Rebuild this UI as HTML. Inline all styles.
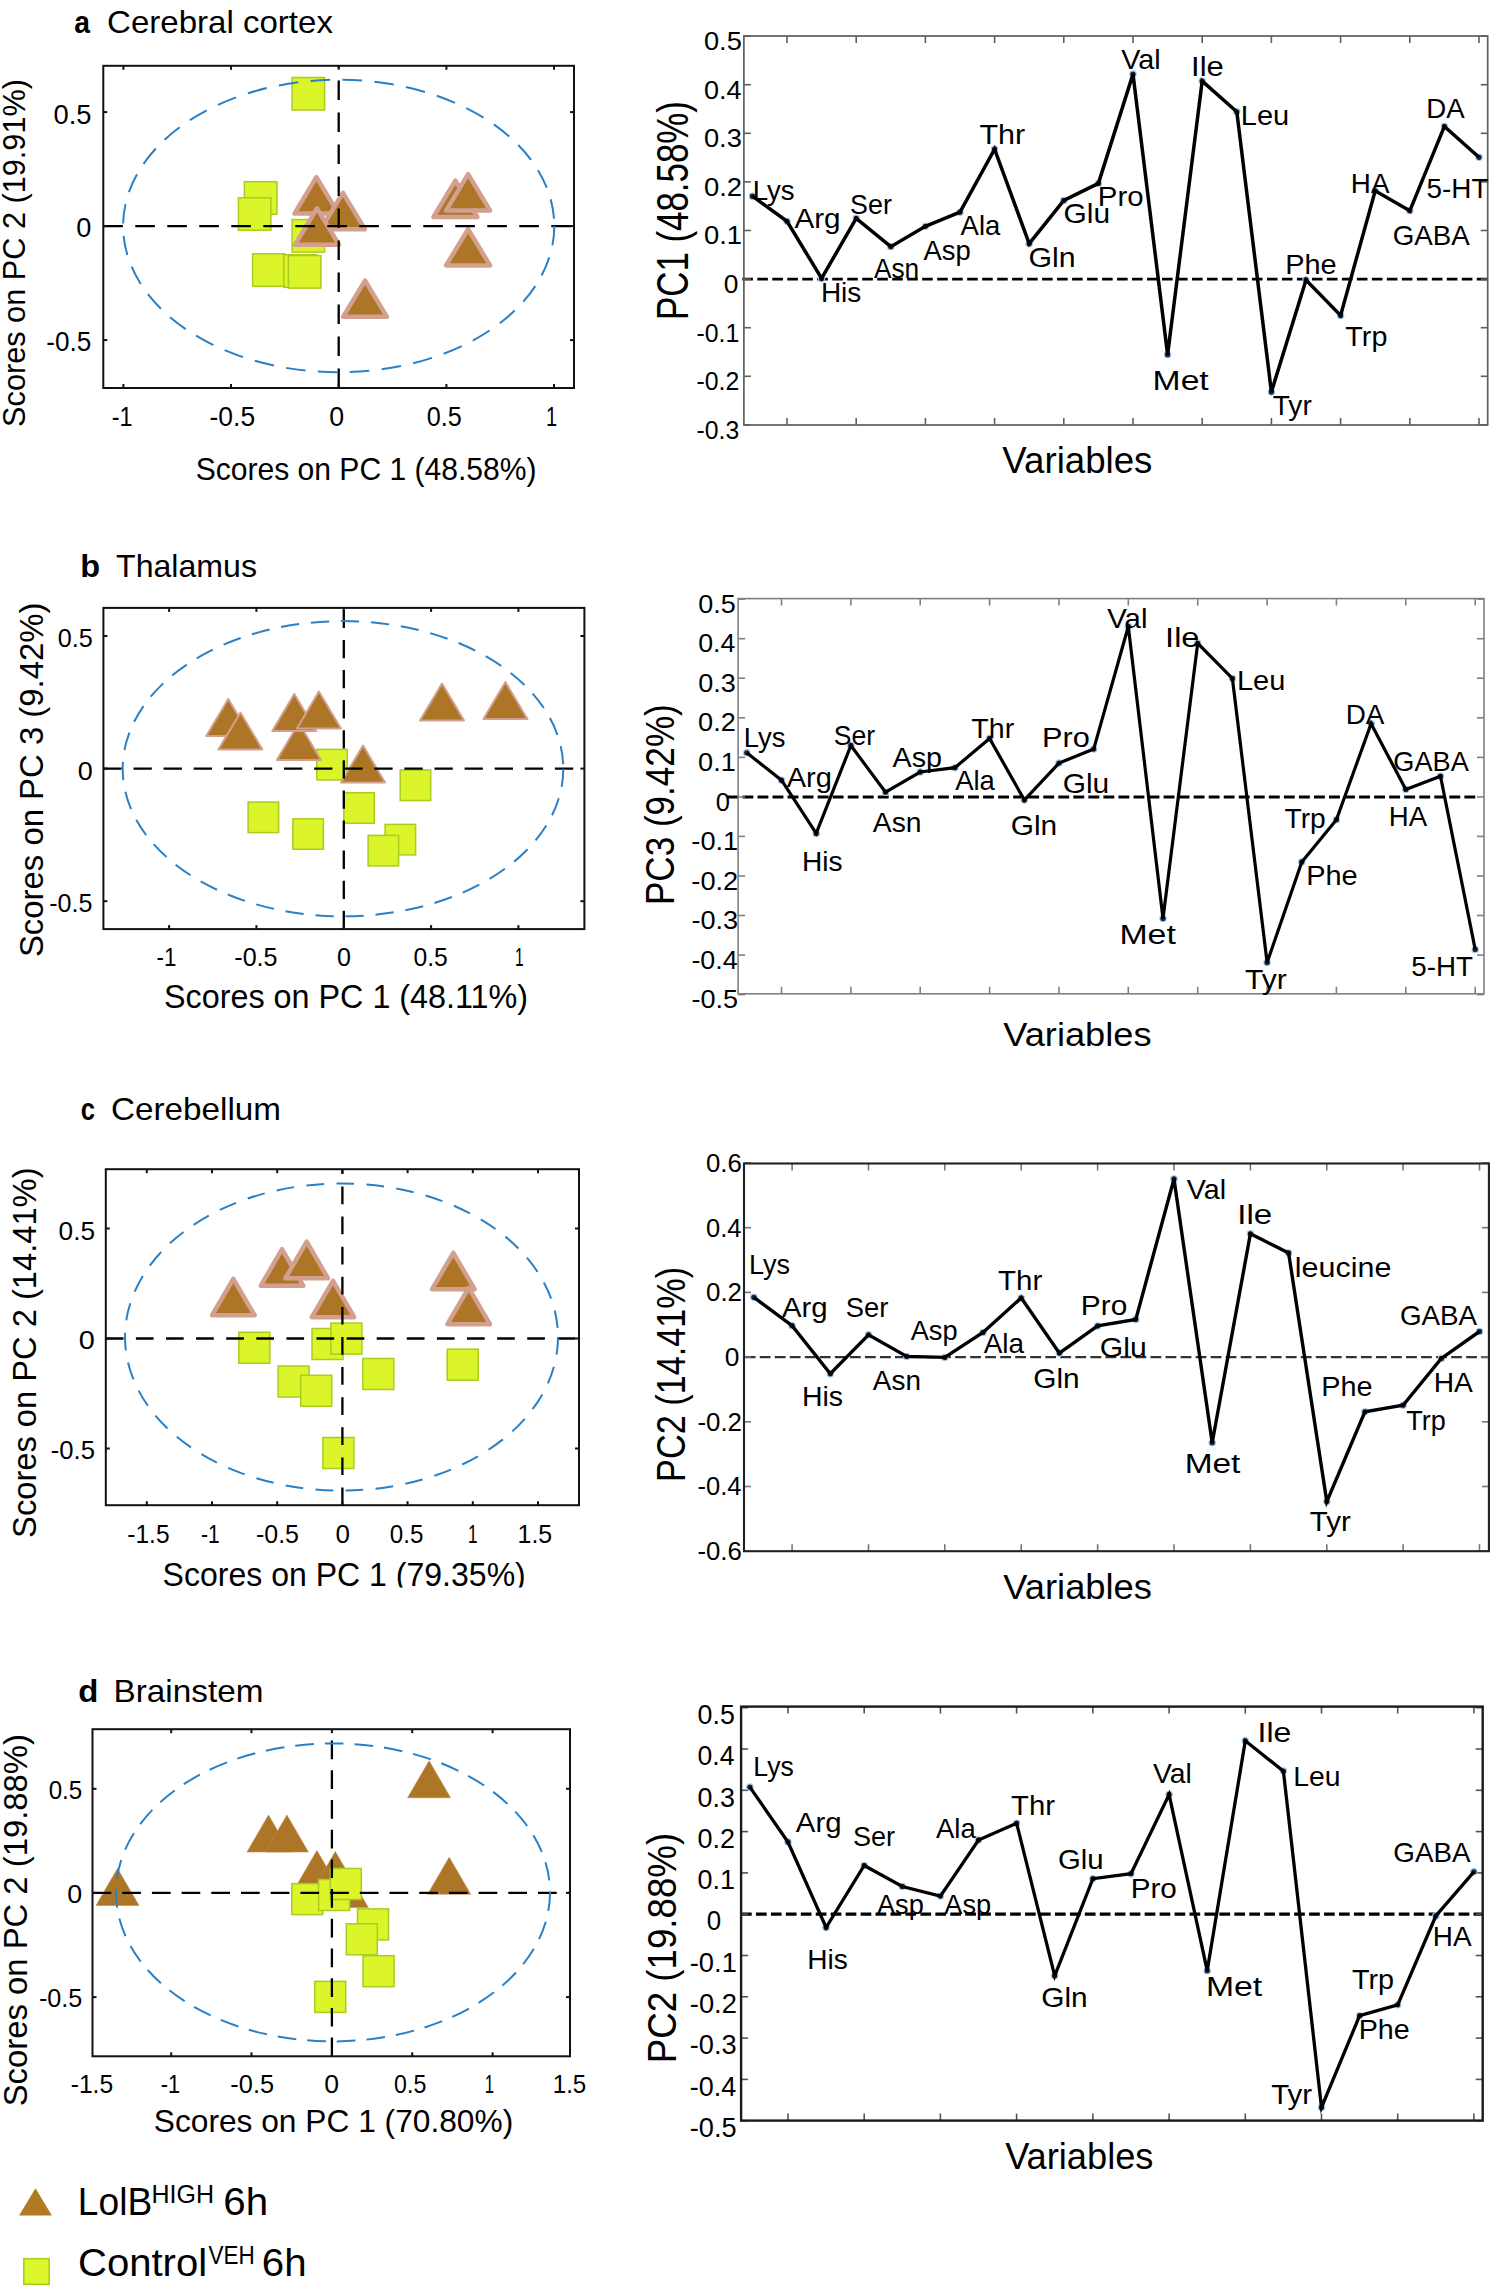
<!DOCTYPE html>
<html><head><meta charset="utf-8"><style>
html,body{margin:0;padding:0;background:#fff;}
svg{display:block;font-family:"Liberation Sans", sans-serif;}
</style></head><body>
<svg xmlns="http://www.w3.org/2000/svg" width="1496" height="2296" viewBox="0 0 1496 2296">
<rect width="1496" height="2296" fill="#fff"/>
<rect x="292.1" y="77.5" width="32.5" height="32.5" fill="#dcf52a" stroke="#a9cc1e" stroke-width="1.5"/>
<rect x="244.4" y="181.7" width="32.5" height="32.5" fill="#dcf52a" stroke="#a9cc1e" stroke-width="1.5"/>
<rect x="238.4" y="197.8" width="32.5" height="32.5" fill="#dcf52a" stroke="#a9cc1e" stroke-width="1.5"/>
<rect x="292.1" y="219.6" width="32.5" height="32.5" fill="#dcf52a" stroke="#a9cc1e" stroke-width="1.5"/>
<rect x="252.6" y="253.8" width="32.5" height="32.5" fill="#dcf52a" stroke="#a9cc1e" stroke-width="1.5"/>
<rect x="283.8" y="254.8" width="32.5" height="32.5" fill="#dcf52a" stroke="#a9cc1e" stroke-width="1.5"/>
<rect x="288.4" y="255.6" width="32.5" height="32.5" fill="#dcf52a" stroke="#a9cc1e" stroke-width="1.5"/>
<polygon points="316.4,177.2 338.4,213.6 294.4,213.6" fill="#ad7626" stroke="#d3a08f" stroke-width="4.5" stroke-linejoin="round"/>
<polygon points="342.9,192.8 364.9,229.2 320.9,229.2" fill="#ad7626" stroke="#d3a08f" stroke-width="4.5" stroke-linejoin="round"/>
<polygon points="317.0,208.3 339.0,244.7 295.0,244.7" fill="#ad7626" stroke="#d3a08f" stroke-width="4.5" stroke-linejoin="round"/>
<polygon points="365.0,280.6 387.0,316.8 343.0,316.8" fill="#ad7626" stroke="#d3a08f" stroke-width="4.5" stroke-linejoin="round"/>
<polygon points="455.4,180.7 477.4,217.0 433.4,217.0" fill="#ad7626" stroke="#d3a08f" stroke-width="4.5" stroke-linejoin="round"/>
<polygon points="468.1,174.2 490.1,210.6 446.1,210.6" fill="#ad7626" stroke="#d3a08f" stroke-width="4.5" stroke-linejoin="round"/>
<polygon points="468.1,229.2 490.1,265.4 446.1,265.4" fill="#ad7626" stroke="#d3a08f" stroke-width="4.5" stroke-linejoin="round"/>
<line x1="103.3" y1="226.1" x2="574.0" y2="226.1" stroke="#000" stroke-width="2.3" stroke-dasharray="19.6,12.4"/>
<line x1="338.7" y1="388.0" x2="338.7" y2="65.8" stroke="#000" stroke-width="2.3" stroke-dasharray="19.6,12.4"/>
<ellipse cx="338.7" cy="226.0" rx="215.6" ry="146.3" fill="none" stroke="#2a80c6" stroke-width="2" stroke-dasharray="19.6,12.4"/>
<rect x="103.3" y="65.8" width="470.7" height="322.2" fill="none" stroke="#111" stroke-width="2"/>
<line x1="123.4" y1="388.0" x2="123.4" y2="384.0" stroke="#111" stroke-width="2"/>
<line x1="123.4" y1="65.8" x2="123.4" y2="69.8" stroke="#111" stroke-width="2"/>
<line x1="231.0" y1="388.0" x2="231.0" y2="384.0" stroke="#111" stroke-width="2"/>
<line x1="231.0" y1="65.8" x2="231.0" y2="69.8" stroke="#111" stroke-width="2"/>
<line x1="338.7" y1="388.0" x2="338.7" y2="384.0" stroke="#111" stroke-width="2"/>
<line x1="338.7" y1="65.8" x2="338.7" y2="69.8" stroke="#111" stroke-width="2"/>
<line x1="446.4" y1="388.0" x2="446.4" y2="384.0" stroke="#111" stroke-width="2"/>
<line x1="446.4" y1="65.8" x2="446.4" y2="69.8" stroke="#111" stroke-width="2"/>
<line x1="554.0" y1="388.0" x2="554.0" y2="384.0" stroke="#111" stroke-width="2"/>
<line x1="554.0" y1="65.8" x2="554.0" y2="69.8" stroke="#111" stroke-width="2"/>
<line x1="103.3" y1="340.1" x2="107.3" y2="340.1" stroke="#111" stroke-width="2"/>
<line x1="574.0" y1="340.1" x2="570.0" y2="340.1" stroke="#111" stroke-width="2"/>
<line x1="103.3" y1="226.1" x2="107.3" y2="226.1" stroke="#111" stroke-width="2"/>
<line x1="574.0" y1="226.1" x2="570.0" y2="226.1" stroke="#111" stroke-width="2"/>
<line x1="103.3" y1="112.1" x2="107.3" y2="112.1" stroke="#111" stroke-width="2"/>
<line x1="574.0" y1="112.1" x2="570.0" y2="112.1" stroke="#111" stroke-width="2"/>
<text x="74.27" y="33.40" font-size="32.27" font-weight="bold" textLength="15.75" lengthAdjust="spacingAndGlyphs" fill="#000">a</text>
<text x="107.12" y="33.40" font-size="32.27" textLength="225.83" lengthAdjust="spacingAndGlyphs" fill="#000">Cerebral cortex</text>
<text x="111.76" y="425.60" font-size="28.05" textLength="20.78" lengthAdjust="spacingAndGlyphs" fill="#000">-1</text>
<text x="209.52" y="425.60" font-size="28.05" textLength="45.59" lengthAdjust="spacingAndGlyphs" fill="#000">-0.5</text>
<text x="329.35" y="425.60" font-size="28.05" textLength="14.89" lengthAdjust="spacingAndGlyphs" fill="#000">0</text>
<text x="426.72" y="425.60" font-size="28.05" textLength="35.04" lengthAdjust="spacingAndGlyphs" fill="#000">0.5</text>
<text x="546.08" y="425.60" font-size="28.05" textLength="11.09" lengthAdjust="spacingAndGlyphs" fill="#000">1</text>
<text x="53.43" y="123.50" font-size="28.05" textLength="38.02" lengthAdjust="spacingAndGlyphs" fill="#000">0.5</text>
<text x="76.24" y="237.30" font-size="28.05" textLength="15.12" lengthAdjust="spacingAndGlyphs" fill="#000">0</text>
<text x="46.34" y="351.20" font-size="28.05" textLength="45.06" lengthAdjust="spacingAndGlyphs" fill="#000">-0.5</text>
<text x="195.63" y="479.50" font-size="31.69" textLength="340.93" lengthAdjust="spacingAndGlyphs" fill="#000">Scores on PC 1 (48.58%)</text>
<text transform="translate(25.20,426.89) rotate(-90)" font-size="31.69" textLength="347.90" lengthAdjust="spacingAndGlyphs" fill="#000">Scores on PC 2 (19.91%)</text>
<rect x="316.8" y="749.4" width="30.5" height="30.5" fill="#dcf52a" stroke="#a9cc1e" stroke-width="1.5"/>
<rect x="400.2" y="770.0" width="30.5" height="30.5" fill="#dcf52a" stroke="#a9cc1e" stroke-width="1.5"/>
<rect x="343.8" y="792.8" width="30.5" height="30.5" fill="#dcf52a" stroke="#a9cc1e" stroke-width="1.5"/>
<rect x="248.1" y="802.1" width="30.5" height="30.5" fill="#dcf52a" stroke="#a9cc1e" stroke-width="1.5"/>
<rect x="292.9" y="818.8" width="30.5" height="30.5" fill="#dcf52a" stroke="#a9cc1e" stroke-width="1.5"/>
<rect x="385.1" y="824.4" width="30.5" height="30.5" fill="#dcf52a" stroke="#a9cc1e" stroke-width="1.5"/>
<rect x="368.1" y="835.4" width="30.5" height="30.5" fill="#dcf52a" stroke="#a9cc1e" stroke-width="1.5"/>
<polygon points="228.3,698.9 250.3,735.9 206.3,735.9" fill="#ad7626" stroke="#d3a08f" stroke-width="2" stroke-linejoin="round"/>
<polygon points="240.4,712.5 262.4,749.5 218.4,749.5" fill="#ad7626" stroke="#d3a08f" stroke-width="2" stroke-linejoin="round"/>
<polygon points="298.9,723.1 320.9,760.1 276.9,760.1" fill="#ad7626" stroke="#d3a08f" stroke-width="2" stroke-linejoin="round"/>
<polygon points="294.3,693.9 316.3,730.9 272.3,730.9" fill="#ad7626" stroke="#d3a08f" stroke-width="2" stroke-linejoin="round"/>
<polygon points="318.9,691.5 340.9,728.5 296.9,728.5" fill="#ad7626" stroke="#d3a08f" stroke-width="2" stroke-linejoin="round"/>
<polygon points="363.0,745.5 385.0,782.5 341.0,782.5" fill="#ad7626" stroke="#d3a08f" stroke-width="2" stroke-linejoin="round"/>
<polygon points="442.0,683.5 464.0,720.5 420.0,720.5" fill="#ad7626" stroke="#d3a08f" stroke-width="2" stroke-linejoin="round"/>
<polygon points="505.4,682.1 527.4,719.1 483.4,719.1" fill="#ad7626" stroke="#d3a08f" stroke-width="2" stroke-linejoin="round"/>
<line x1="103.4" y1="768.6" x2="584.4" y2="768.6" stroke="#000" stroke-width="2.3" stroke-dasharray="18.3,11.8"/>
<line x1="343.8" y1="929.1" x2="343.8" y2="607.9" stroke="#000" stroke-width="2.3" stroke-dasharray="18.3,11.8"/>
<ellipse cx="343.0" cy="768.7" rx="220.3" ry="147.6" fill="none" stroke="#2a80c6" stroke-width="2" stroke-dasharray="18.3,11.8"/>
<rect x="103.4" y="607.9" width="481.0" height="321.20000000000005" fill="none" stroke="#111" stroke-width="2"/>
<line x1="169.1" y1="929.1" x2="169.1" y2="925.1" stroke="#111" stroke-width="2"/>
<line x1="169.1" y1="607.9" x2="169.1" y2="611.9" stroke="#111" stroke-width="2"/>
<line x1="256.4" y1="929.1" x2="256.4" y2="925.1" stroke="#111" stroke-width="2"/>
<line x1="256.4" y1="607.9" x2="256.4" y2="611.9" stroke="#111" stroke-width="2"/>
<line x1="343.8" y1="929.1" x2="343.8" y2="925.1" stroke="#111" stroke-width="2"/>
<line x1="343.8" y1="607.9" x2="343.8" y2="611.9" stroke="#111" stroke-width="2"/>
<line x1="431.1" y1="929.1" x2="431.1" y2="925.1" stroke="#111" stroke-width="2"/>
<line x1="431.1" y1="607.9" x2="431.1" y2="611.9" stroke="#111" stroke-width="2"/>
<line x1="518.4" y1="929.1" x2="518.4" y2="925.1" stroke="#111" stroke-width="2"/>
<line x1="518.4" y1="607.9" x2="518.4" y2="611.9" stroke="#111" stroke-width="2"/>
<line x1="103.4" y1="901.2" x2="107.4" y2="901.2" stroke="#111" stroke-width="2"/>
<line x1="584.4" y1="901.2" x2="580.4" y2="901.2" stroke="#111" stroke-width="2"/>
<line x1="103.4" y1="768.6" x2="107.4" y2="768.6" stroke="#111" stroke-width="2"/>
<line x1="584.4" y1="768.6" x2="580.4" y2="768.6" stroke="#111" stroke-width="2"/>
<line x1="103.4" y1="636.0" x2="107.4" y2="636.0" stroke="#111" stroke-width="2"/>
<line x1="584.4" y1="636.0" x2="580.4" y2="636.0" stroke="#111" stroke-width="2"/>
<text x="80.15" y="576.80" font-size="31.69" font-weight="bold" textLength="19.88" lengthAdjust="spacingAndGlyphs" fill="#000">b</text>
<text x="116.08" y="576.80" font-size="31.69" textLength="140.88" lengthAdjust="spacingAndGlyphs" fill="#000">Thalamus</text>
<text x="156.51" y="966.20" font-size="26.02" textLength="19.77" lengthAdjust="spacingAndGlyphs" fill="#000">-1</text>
<text x="234.28" y="966.20" font-size="26.02" textLength="43.27" lengthAdjust="spacingAndGlyphs" fill="#000">-0.5</text>
<text x="337.02" y="966.20" font-size="26.02" textLength="13.96" lengthAdjust="spacingAndGlyphs" fill="#000">0</text>
<text x="413.54" y="966.20" font-size="26.02" textLength="34.30" lengthAdjust="spacingAndGlyphs" fill="#000">0.5</text>
<text x="514.92" y="966.20" font-size="26.02" textLength="8.64" lengthAdjust="spacingAndGlyphs" fill="#000">1</text>
<text x="57.82" y="647.20" font-size="26.02" textLength="35.04" lengthAdjust="spacingAndGlyphs" fill="#000">0.5</text>
<text x="77.85" y="779.60" font-size="26.02" textLength="15.01" lengthAdjust="spacingAndGlyphs" fill="#000">0</text>
<text x="49.18" y="911.80" font-size="26.02" textLength="43.27" lengthAdjust="spacingAndGlyphs" fill="#000">-0.5</text>
<text x="164.04" y="1008.20" font-size="33.28" textLength="364.05" lengthAdjust="spacingAndGlyphs" fill="#000">Scores on PC 1 (48.11%)</text>
<text transform="translate(42.70,957.09) rotate(-90)" font-size="33.28" textLength="354.63" lengthAdjust="spacingAndGlyphs" fill="#000">Scores on PC 3 (9.42%)</text>
<rect x="238.8" y="1332.3" width="31" height="31" fill="#dcf52a" stroke="#a9cc1e" stroke-width="1.5"/>
<rect x="312.0" y="1328.5" width="31" height="31" fill="#dcf52a" stroke="#a9cc1e" stroke-width="1.5"/>
<rect x="330.9" y="1323.1" width="31" height="31" fill="#dcf52a" stroke="#a9cc1e" stroke-width="1.5"/>
<rect x="278.1" y="1366.0" width="31" height="31" fill="#dcf52a" stroke="#a9cc1e" stroke-width="1.5"/>
<rect x="300.7" y="1375.3" width="31" height="31" fill="#dcf52a" stroke="#a9cc1e" stroke-width="1.5"/>
<rect x="362.8" y="1358.5" width="31" height="31" fill="#dcf52a" stroke="#a9cc1e" stroke-width="1.5"/>
<rect x="322.9" y="1437.5" width="31" height="31" fill="#dcf52a" stroke="#a9cc1e" stroke-width="1.5"/>
<rect x="447.2" y="1349.2" width="31" height="31" fill="#dcf52a" stroke="#a9cc1e" stroke-width="1.5"/>
<polygon points="233.3,1278.8 254.6,1315.2 212.1,1315.2" fill="#ad7626" stroke="#d3a08f" stroke-width="4.5" stroke-linejoin="round"/>
<polygon points="282.0,1249.2 303.2,1285.7 260.8,1285.7" fill="#ad7626" stroke="#d3a08f" stroke-width="4.5" stroke-linejoin="round"/>
<polygon points="306.7,1241.7 327.9,1278.2 285.4,1278.2" fill="#ad7626" stroke="#d3a08f" stroke-width="4.5" stroke-linejoin="round"/>
<polygon points="333.0,1280.8 354.2,1317.2 311.8,1317.2" fill="#ad7626" stroke="#d3a08f" stroke-width="4.5" stroke-linejoin="round"/>
<polygon points="453.3,1252.8 474.6,1289.2 432.1,1289.2" fill="#ad7626" stroke="#d3a08f" stroke-width="4.5" stroke-linejoin="round"/>
<polygon points="468.7,1287.8 489.9,1324.2 447.4,1324.2" fill="#ad7626" stroke="#d3a08f" stroke-width="4.5" stroke-linejoin="round"/>
<line x1="105.8" y1="1338.5" x2="579.0" y2="1338.5" stroke="#000" stroke-width="2.3" stroke-dasharray="17.7,12.4"/>
<line x1="342.4" y1="1505.2" x2="342.4" y2="1169.2" stroke="#000" stroke-width="2.3" stroke-dasharray="17.7,12.4"/>
<ellipse cx="341.5" cy="1337" rx="216.5" ry="153.6" fill="none" stroke="#2a80c6" stroke-width="2" stroke-dasharray="17.7,12.4"/>
<rect x="105.8" y="1169.2" width="473.2" height="336.0" fill="none" stroke="#111" stroke-width="2"/>
<line x1="146.8" y1="1505.2" x2="146.8" y2="1501.2" stroke="#111" stroke-width="2"/>
<line x1="146.8" y1="1169.2" x2="146.8" y2="1173.2" stroke="#111" stroke-width="2"/>
<line x1="212.0" y1="1505.2" x2="212.0" y2="1501.2" stroke="#111" stroke-width="2"/>
<line x1="212.0" y1="1169.2" x2="212.0" y2="1173.2" stroke="#111" stroke-width="2"/>
<line x1="277.2" y1="1505.2" x2="277.2" y2="1501.2" stroke="#111" stroke-width="2"/>
<line x1="277.2" y1="1169.2" x2="277.2" y2="1173.2" stroke="#111" stroke-width="2"/>
<line x1="342.4" y1="1505.2" x2="342.4" y2="1501.2" stroke="#111" stroke-width="2"/>
<line x1="342.4" y1="1169.2" x2="342.4" y2="1173.2" stroke="#111" stroke-width="2"/>
<line x1="407.6" y1="1505.2" x2="407.6" y2="1501.2" stroke="#111" stroke-width="2"/>
<line x1="407.6" y1="1169.2" x2="407.6" y2="1173.2" stroke="#111" stroke-width="2"/>
<line x1="472.8" y1="1505.2" x2="472.8" y2="1501.2" stroke="#111" stroke-width="2"/>
<line x1="472.8" y1="1169.2" x2="472.8" y2="1173.2" stroke="#111" stroke-width="2"/>
<line x1="538.0" y1="1505.2" x2="538.0" y2="1501.2" stroke="#111" stroke-width="2"/>
<line x1="538.0" y1="1169.2" x2="538.0" y2="1173.2" stroke="#111" stroke-width="2"/>
<line x1="105.8" y1="1448.5" x2="109.8" y2="1448.5" stroke="#111" stroke-width="2"/>
<line x1="579.0" y1="1448.5" x2="575.0" y2="1448.5" stroke="#111" stroke-width="2"/>
<line x1="105.8" y1="1338.5" x2="109.8" y2="1338.5" stroke="#111" stroke-width="2"/>
<line x1="579.0" y1="1338.5" x2="575.0" y2="1338.5" stroke="#111" stroke-width="2"/>
<line x1="105.8" y1="1228.5" x2="109.8" y2="1228.5" stroke="#111" stroke-width="2"/>
<line x1="579.0" y1="1228.5" x2="575.0" y2="1228.5" stroke="#111" stroke-width="2"/>
<text x="80.80" y="1120.10" font-size="31.98" font-weight="bold" textLength="14.25" lengthAdjust="spacingAndGlyphs" fill="#000">c</text>
<text x="110.91" y="1120.10" font-size="31.98" textLength="170.08" lengthAdjust="spacingAndGlyphs" fill="#000">Cerebellum</text>
<text x="127.31" y="1542.70" font-size="25.00" textLength="42.22" lengthAdjust="spacingAndGlyphs" fill="#000">-1.5</text>
<text x="200.97" y="1542.70" font-size="25.00" textLength="18.66" lengthAdjust="spacingAndGlyphs" fill="#000">-1</text>
<text x="255.99" y="1542.70" font-size="25.00" textLength="42.95" lengthAdjust="spacingAndGlyphs" fill="#000">-0.5</text>
<text x="335.59" y="1542.70" font-size="25.00" textLength="14.43" lengthAdjust="spacingAndGlyphs" fill="#000">0</text>
<text x="389.85" y="1542.70" font-size="25.00" textLength="33.66" lengthAdjust="spacingAndGlyphs" fill="#000">0.5</text>
<text x="467.99" y="1542.70" font-size="25.00" textLength="9.55" lengthAdjust="spacingAndGlyphs" fill="#000">1</text>
<text x="517.60" y="1542.70" font-size="25.00" textLength="34.64" lengthAdjust="spacingAndGlyphs" fill="#000">1.5</text>
<text x="58.58" y="1239.70" font-size="25.58" textLength="36.42" lengthAdjust="spacingAndGlyphs" fill="#000">0.5</text>
<text x="78.77" y="1349.10" font-size="25.58" textLength="16.06" lengthAdjust="spacingAndGlyphs" fill="#000">0</text>
<text x="50.76" y="1459.30" font-size="25.58" textLength="44.22" lengthAdjust="spacingAndGlyphs" fill="#000">-0.5</text>
<text x="162.55" y="1585.80" font-size="32.99" textLength="363.24" lengthAdjust="spacingAndGlyphs" fill="#000">Scores on PC 1 (79.35%)</text>
<text transform="translate(35.60,1537.88) rotate(-90)" font-size="33.28" textLength="370.41" lengthAdjust="spacingAndGlyphs" fill="#000">Scores on PC 2 (14.41%)</text>
<rect x="0" y="1587.5" width="640" height="14" fill="#fff"/>
<polygon points="117.5,1868.5 139.0,1905.5 96.0,1905.5" fill="#ad7626" stroke="#c08a50" stroke-width="0.6" stroke-linejoin="round"/>
<polygon points="268.5,1815.0 290.0,1852.0 247.0,1852.0" fill="#ad7626" stroke="#c08a50" stroke-width="0.6" stroke-linejoin="round"/>
<polygon points="286.9,1815.0 308.4,1852.0 265.4,1852.0" fill="#ad7626" stroke="#c08a50" stroke-width="0.6" stroke-linejoin="round"/>
<polygon points="316.9,1850.4 338.4,1887.4 295.4,1887.4" fill="#ad7626" stroke="#c08a50" stroke-width="0.6" stroke-linejoin="round"/>
<polygon points="335.3,1851.5 356.8,1888.5 313.8,1888.5" fill="#ad7626" stroke="#c08a50" stroke-width="0.6" stroke-linejoin="round"/>
<polygon points="346.8,1870.5 368.3,1907.5 325.3,1907.5" fill="#ad7626" stroke="#c08a50" stroke-width="0.6" stroke-linejoin="round"/>
<polygon points="429.1,1760.8 450.6,1797.8 407.6,1797.8" fill="#ad7626" stroke="#c08a50" stroke-width="0.6" stroke-linejoin="round"/>
<polygon points="449.2,1857.2 470.7,1894.2 427.7,1894.2" fill="#ad7626" stroke="#c08a50" stroke-width="0.6" stroke-linejoin="round"/>
<rect x="291.8" y="1883.6" width="31" height="31" fill="#dcf52a" stroke="#a9cc1e" stroke-width="1.5"/>
<rect x="318.6" y="1879.5" width="31" height="31" fill="#dcf52a" stroke="#a9cc1e" stroke-width="1.5"/>
<rect x="330.3" y="1868.5" width="31" height="31" fill="#dcf52a" stroke="#a9cc1e" stroke-width="1.5"/>
<rect x="357.5" y="1908.9" width="31" height="31" fill="#dcf52a" stroke="#a9cc1e" stroke-width="1.5"/>
<rect x="346.3" y="1923.8" width="31" height="31" fill="#dcf52a" stroke="#a9cc1e" stroke-width="1.5"/>
<rect x="363.1" y="1955.7" width="31" height="31" fill="#dcf52a" stroke="#a9cc1e" stroke-width="1.5"/>
<rect x="314.7" y="1981.4" width="31" height="31" fill="#dcf52a" stroke="#a9cc1e" stroke-width="1.5"/>
<line x1="92.5" y1="1892.9" x2="570.0" y2="1892.9" stroke="#000" stroke-width="2.3" stroke-dasharray="18.7,11"/>
<line x1="331.9" y1="2056.3" x2="331.9" y2="1729.2" stroke="#000" stroke-width="2.3" stroke-dasharray="18.7,11"/>
<ellipse cx="333" cy="1892.4" rx="217" ry="149" fill="none" stroke="#2a80c6" stroke-width="2" stroke-dasharray="18.7,11"/>
<rect x="92.5" y="1729.2" width="477.5" height="327.10000000000014" fill="none" stroke="#111" stroke-width="2"/>
<line x1="171.2" y1="2056.3" x2="171.2" y2="2052.3" stroke="#111" stroke-width="2"/>
<line x1="171.2" y1="1729.2" x2="171.2" y2="1733.2" stroke="#111" stroke-width="2"/>
<line x1="251.5" y1="2056.3" x2="251.5" y2="2052.3" stroke="#111" stroke-width="2"/>
<line x1="251.5" y1="1729.2" x2="251.5" y2="1733.2" stroke="#111" stroke-width="2"/>
<line x1="331.9" y1="2056.3" x2="331.9" y2="2052.3" stroke="#111" stroke-width="2"/>
<line x1="331.9" y1="1729.2" x2="331.9" y2="1733.2" stroke="#111" stroke-width="2"/>
<line x1="412.2" y1="2056.3" x2="412.2" y2="2052.3" stroke="#111" stroke-width="2"/>
<line x1="412.2" y1="1729.2" x2="412.2" y2="1733.2" stroke="#111" stroke-width="2"/>
<line x1="492.6" y1="2056.3" x2="492.6" y2="2052.3" stroke="#111" stroke-width="2"/>
<line x1="492.6" y1="1729.2" x2="492.6" y2="1733.2" stroke="#111" stroke-width="2"/>
<line x1="92.5" y1="1997.1" x2="96.5" y2="1997.1" stroke="#111" stroke-width="2"/>
<line x1="570.0" y1="1997.1" x2="566.0" y2="1997.1" stroke="#111" stroke-width="2"/>
<line x1="92.5" y1="1892.9" x2="96.5" y2="1892.9" stroke="#111" stroke-width="2"/>
<line x1="570.0" y1="1892.9" x2="566.0" y2="1892.9" stroke="#111" stroke-width="2"/>
<line x1="92.5" y1="1788.8" x2="96.5" y2="1788.8" stroke="#111" stroke-width="2"/>
<line x1="570.0" y1="1788.8" x2="566.0" y2="1788.8" stroke="#111" stroke-width="2"/>
<text x="78.25" y="1701.60" font-size="31.40" font-weight="bold" textLength="20.12" lengthAdjust="spacingAndGlyphs" fill="#000">d</text>
<text x="113.57" y="1701.60" font-size="31.40" textLength="149.82" lengthAdjust="spacingAndGlyphs" fill="#000">Brainstem</text>
<text x="70.71" y="2093.10" font-size="25.00" textLength="42.43" lengthAdjust="spacingAndGlyphs" fill="#000">-1.5</text>
<text x="160.83" y="2093.10" font-size="25.00" textLength="19.33" lengthAdjust="spacingAndGlyphs" fill="#000">-1</text>
<text x="230.37" y="2093.10" font-size="25.00" textLength="43.69" lengthAdjust="spacingAndGlyphs" fill="#000">-0.5</text>
<text x="324.26" y="2093.10" font-size="25.00" textLength="14.78" lengthAdjust="spacingAndGlyphs" fill="#000">0</text>
<text x="394.10" y="2093.10" font-size="25.00" textLength="32.18" lengthAdjust="spacingAndGlyphs" fill="#000">0.5</text>
<text x="484.73" y="2093.10" font-size="25.00" textLength="9.29" lengthAdjust="spacingAndGlyphs" fill="#000">1</text>
<text x="552.76" y="2093.10" font-size="25.00" textLength="33.55" lengthAdjust="spacingAndGlyphs" fill="#000">1.5</text>
<text x="48.66" y="1799.40" font-size="25.29" textLength="33.56" lengthAdjust="spacingAndGlyphs" fill="#000">0.5</text>
<text x="67.15" y="1903.30" font-size="25.29" textLength="14.89" lengthAdjust="spacingAndGlyphs" fill="#000">0</text>
<text x="38.98" y="2007.30" font-size="25.29" textLength="43.38" lengthAdjust="spacingAndGlyphs" fill="#000">-0.5</text>
<text x="153.76" y="2131.50" font-size="31.10" textLength="359.51" lengthAdjust="spacingAndGlyphs" fill="#000">Scores on PC 1 (70.80%)</text>
<text transform="translate(27.20,2106.29) rotate(-90)" font-size="33.28" textLength="372.23" lengthAdjust="spacingAndGlyphs" fill="#000">Scores on PC 2 (19.88%)</text>
<line x1="742.3" y1="279.1" x2="1487.7" y2="279.1" stroke="#000" stroke-width="2.9" stroke-dasharray="10.6,4.39" stroke-dashoffset="0"/>
<line x1="787.0" y1="425.0" x2="787.0" y2="418.0" stroke="#5e5e5e" stroke-width="1.6"/>
<line x1="787.0" y1="36.0" x2="787.0" y2="43.0" stroke="#5e5e5e" stroke-width="1.6"/>
<line x1="856.2" y1="425.0" x2="856.2" y2="418.0" stroke="#5e5e5e" stroke-width="1.6"/>
<line x1="856.2" y1="36.0" x2="856.2" y2="43.0" stroke="#5e5e5e" stroke-width="1.6"/>
<line x1="925.4" y1="425.0" x2="925.4" y2="418.0" stroke="#5e5e5e" stroke-width="1.6"/>
<line x1="925.4" y1="36.0" x2="925.4" y2="43.0" stroke="#5e5e5e" stroke-width="1.6"/>
<line x1="994.6" y1="425.0" x2="994.6" y2="418.0" stroke="#5e5e5e" stroke-width="1.6"/>
<line x1="994.6" y1="36.0" x2="994.6" y2="43.0" stroke="#5e5e5e" stroke-width="1.6"/>
<line x1="1063.8" y1="425.0" x2="1063.8" y2="418.0" stroke="#5e5e5e" stroke-width="1.6"/>
<line x1="1063.8" y1="36.0" x2="1063.8" y2="43.0" stroke="#5e5e5e" stroke-width="1.6"/>
<line x1="1133.0" y1="425.0" x2="1133.0" y2="418.0" stroke="#5e5e5e" stroke-width="1.6"/>
<line x1="1133.0" y1="36.0" x2="1133.0" y2="43.0" stroke="#5e5e5e" stroke-width="1.6"/>
<line x1="1202.2" y1="425.0" x2="1202.2" y2="418.0" stroke="#5e5e5e" stroke-width="1.6"/>
<line x1="1202.2" y1="36.0" x2="1202.2" y2="43.0" stroke="#5e5e5e" stroke-width="1.6"/>
<line x1="1271.4" y1="425.0" x2="1271.4" y2="418.0" stroke="#5e5e5e" stroke-width="1.6"/>
<line x1="1271.4" y1="36.0" x2="1271.4" y2="43.0" stroke="#5e5e5e" stroke-width="1.6"/>
<line x1="1340.6" y1="425.0" x2="1340.6" y2="418.0" stroke="#5e5e5e" stroke-width="1.6"/>
<line x1="1340.6" y1="36.0" x2="1340.6" y2="43.0" stroke="#5e5e5e" stroke-width="1.6"/>
<line x1="1409.8" y1="425.0" x2="1409.8" y2="418.0" stroke="#5e5e5e" stroke-width="1.6"/>
<line x1="1409.8" y1="36.0" x2="1409.8" y2="43.0" stroke="#5e5e5e" stroke-width="1.6"/>
<line x1="1479.0" y1="425.0" x2="1479.0" y2="418.0" stroke="#5e5e5e" stroke-width="1.6"/>
<line x1="1479.0" y1="36.0" x2="1479.0" y2="43.0" stroke="#5e5e5e" stroke-width="1.6"/>
<line x1="743.9" y1="424.9" x2="750.9" y2="424.9" stroke="#5e5e5e" stroke-width="1.6"/>
<line x1="1487.7" y1="424.9" x2="1480.7" y2="424.9" stroke="#5e5e5e" stroke-width="1.6"/>
<line x1="743.9" y1="376.3" x2="750.9" y2="376.3" stroke="#5e5e5e" stroke-width="1.6"/>
<line x1="1487.7" y1="376.3" x2="1480.7" y2="376.3" stroke="#5e5e5e" stroke-width="1.6"/>
<line x1="743.9" y1="327.7" x2="750.9" y2="327.7" stroke="#5e5e5e" stroke-width="1.6"/>
<line x1="1487.7" y1="327.7" x2="1480.7" y2="327.7" stroke="#5e5e5e" stroke-width="1.6"/>
<line x1="743.9" y1="279.1" x2="750.9" y2="279.1" stroke="#5e5e5e" stroke-width="1.6"/>
<line x1="1487.7" y1="279.1" x2="1480.7" y2="279.1" stroke="#5e5e5e" stroke-width="1.6"/>
<line x1="743.9" y1="230.5" x2="750.9" y2="230.5" stroke="#5e5e5e" stroke-width="1.6"/>
<line x1="1487.7" y1="230.5" x2="1480.7" y2="230.5" stroke="#5e5e5e" stroke-width="1.6"/>
<line x1="743.9" y1="181.9" x2="750.9" y2="181.9" stroke="#5e5e5e" stroke-width="1.6"/>
<line x1="1487.7" y1="181.9" x2="1480.7" y2="181.9" stroke="#5e5e5e" stroke-width="1.6"/>
<line x1="743.9" y1="133.3" x2="750.9" y2="133.3" stroke="#5e5e5e" stroke-width="1.6"/>
<line x1="1487.7" y1="133.3" x2="1480.7" y2="133.3" stroke="#5e5e5e" stroke-width="1.6"/>
<line x1="743.9" y1="84.7" x2="750.9" y2="84.7" stroke="#5e5e5e" stroke-width="1.6"/>
<line x1="1487.7" y1="84.7" x2="1480.7" y2="84.7" stroke="#5e5e5e" stroke-width="1.6"/>
<line x1="743.9" y1="36.1" x2="750.9" y2="36.1" stroke="#5e5e5e" stroke-width="1.6"/>
<line x1="1487.7" y1="36.1" x2="1480.7" y2="36.1" stroke="#5e5e5e" stroke-width="1.6"/>
<rect x="743.9" y="36" width="743.8000000000001" height="389" fill="none" stroke="#5e5e5e" stroke-width="1.7"/>
<circle cx="752.4" cy="196.2" r="3.2" fill="#13243a" stroke="#a9cdec" stroke-width="1.1"/>
<circle cx="787.0" cy="221.3" r="3.2" fill="#13243a" stroke="#a9cdec" stroke-width="1.1"/>
<circle cx="821.6" cy="278.4" r="3.2" fill="#13243a" stroke="#a9cdec" stroke-width="1.1"/>
<circle cx="856.2" cy="218.3" r="3.2" fill="#13243a" stroke="#a9cdec" stroke-width="1.1"/>
<circle cx="890.8" cy="246.7" r="3.2" fill="#13243a" stroke="#a9cdec" stroke-width="1.1"/>
<circle cx="925.4" cy="226.3" r="3.2" fill="#13243a" stroke="#a9cdec" stroke-width="1.1"/>
<circle cx="960.0" cy="212.2" r="3.2" fill="#13243a" stroke="#a9cdec" stroke-width="1.1"/>
<circle cx="994.6" cy="149.1" r="3.2" fill="#13243a" stroke="#a9cdec" stroke-width="1.1"/>
<circle cx="1029.2" cy="243.7" r="3.2" fill="#13243a" stroke="#a9cdec" stroke-width="1.1"/>
<circle cx="1063.8" cy="200.4" r="3.2" fill="#13243a" stroke="#a9cdec" stroke-width="1.1"/>
<circle cx="1098.4" cy="183.4" r="3.2" fill="#13243a" stroke="#a9cdec" stroke-width="1.1"/>
<circle cx="1133.0" cy="74.1" r="3.2" fill="#13243a" stroke="#a9cdec" stroke-width="1.1"/>
<circle cx="1167.6" cy="354.7" r="3.2" fill="#13243a" stroke="#a9cdec" stroke-width="1.1"/>
<circle cx="1202.2" cy="81.1" r="3.2" fill="#13243a" stroke="#a9cdec" stroke-width="1.1"/>
<circle cx="1236.8" cy="111.8" r="3.2" fill="#13243a" stroke="#a9cdec" stroke-width="1.1"/>
<circle cx="1271.4" cy="392.0" r="3.2" fill="#13243a" stroke="#a9cdec" stroke-width="1.1"/>
<circle cx="1306.0" cy="280.0" r="3.2" fill="#13243a" stroke="#a9cdec" stroke-width="1.1"/>
<circle cx="1340.6" cy="315.4" r="3.2" fill="#13243a" stroke="#a9cdec" stroke-width="1.1"/>
<circle cx="1375.2" cy="190.8" r="3.2" fill="#13243a" stroke="#a9cdec" stroke-width="1.1"/>
<circle cx="1409.8" cy="210.8" r="3.2" fill="#13243a" stroke="#a9cdec" stroke-width="1.1"/>
<circle cx="1444.4" cy="126.4" r="3.2" fill="#13243a" stroke="#a9cdec" stroke-width="1.1"/>
<circle cx="1479.0" cy="157.3" r="3.2" fill="#13243a" stroke="#a9cdec" stroke-width="1.1"/>
<polyline points="752.4,196.2 787.0,221.3 821.6,278.4 856.2,218.3 890.8,246.7 925.4,226.3 960.0,212.2 994.6,149.1 1029.2,243.7 1063.8,200.4 1098.4,183.4 1133.0,74.1 1167.6,354.7 1202.2,81.1 1236.8,111.8 1271.4,392.0 1306.0,280.0 1340.6,315.4 1375.2,190.8 1409.8,210.8 1444.4,126.4 1479.0,157.3" fill="none" stroke="#000" stroke-width="3.5" stroke-linejoin="miter" stroke-miterlimit="4"/>
<text x="752.79" y="200.20" font-size="27.47" textLength="41.88" lengthAdjust="spacingAndGlyphs" fill="#000">Lys</text>
<text x="794.44" y="228.30" font-size="27.47" textLength="46.17" lengthAdjust="spacingAndGlyphs" fill="#000">Arg</text>
<text x="820.91" y="301.50" font-size="27.47" textLength="40.41" lengthAdjust="spacingAndGlyphs" fill="#000">His</text>
<text x="850.08" y="214.20" font-size="27.47" textLength="41.76" lengthAdjust="spacingAndGlyphs" fill="#000">Ser</text>
<text x="873.95" y="278.40" font-size="27.47" textLength="45.26" lengthAdjust="spacingAndGlyphs" fill="#000">Asn</text>
<text x="923.45" y="260.40" font-size="27.47" textLength="47.31" lengthAdjust="spacingAndGlyphs" fill="#000">Asp</text>
<text x="960.55" y="235.30" font-size="27.47" textLength="39.75" lengthAdjust="spacingAndGlyphs" fill="#000">Ala</text>
<text x="979.52" y="144.10" font-size="27.47" textLength="45.69" lengthAdjust="spacingAndGlyphs" fill="#000">Thr</text>
<text x="1028.47" y="267.10" font-size="27.47" textLength="47.19" lengthAdjust="spacingAndGlyphs" fill="#000">Gln</text>
<text x="1063.59" y="222.90" font-size="27.47" textLength="46.59" lengthAdjust="spacingAndGlyphs" fill="#000">Glu</text>
<text x="1097.79" y="206.00" font-size="27.47" textLength="45.75" lengthAdjust="spacingAndGlyphs" fill="#000">Pro</text>
<text x="1121.18" y="69.10" font-size="27.47" textLength="39.45" lengthAdjust="spacingAndGlyphs" fill="#000">Val</text>
<text x="1152.64" y="390.00" font-size="27.47" textLength="56.11" lengthAdjust="spacingAndGlyphs" fill="#000">Met</text>
<text x="1191.14" y="76.10" font-size="27.47" textLength="32.74" lengthAdjust="spacingAndGlyphs" fill="#000">Ile</text>
<text x="1240.82" y="124.80" font-size="27.47" textLength="48.41" lengthAdjust="spacingAndGlyphs" fill="#000">Leu</text>
<text x="1272.79" y="414.80" font-size="27.47" textLength="38.95" lengthAdjust="spacingAndGlyphs" fill="#000">Tyr</text>
<text x="1285.23" y="274.40" font-size="27.47" textLength="51.46" lengthAdjust="spacingAndGlyphs" fill="#000">Phe</text>
<text x="1345.37" y="346.10" font-size="27.47" textLength="42.00" lengthAdjust="spacingAndGlyphs" fill="#000">Trp</text>
<text x="1350.82" y="193.40" font-size="27.47" textLength="38.64" lengthAdjust="spacingAndGlyphs" fill="#000">HA</text>
<text x="1392.70" y="245.20" font-size="27.47" textLength="77.15" lengthAdjust="spacingAndGlyphs" fill="#000">GABA</text>
<text x="1426.33" y="118.30" font-size="27.47" textLength="38.42" lengthAdjust="spacingAndGlyphs" fill="#000">DA</text>
<text x="1426.48" y="197.50" font-size="27.47" textLength="61.96" lengthAdjust="spacingAndGlyphs" fill="#000">5-HT</text>
<text transform="translate(687.60,320.06) rotate(-90)" font-size="43.90" textLength="219.02" lengthAdjust="spacingAndGlyphs" fill="#000">PC1 (48.58%)</text>
<text x="1002.34" y="472.80" font-size="36.92" textLength="150.06" lengthAdjust="spacingAndGlyphs" fill="#000">Variables</text>
<text x="696.50" y="438.70" font-size="25.73" textLength="42.69" lengthAdjust="spacingAndGlyphs" fill="#000">-0.3</text>
<text x="696.49" y="390.10" font-size="25.73" textLength="42.86" lengthAdjust="spacingAndGlyphs" fill="#000">-0.2</text>
<text x="696.50" y="341.50" font-size="25.73" textLength="42.82" lengthAdjust="spacingAndGlyphs" fill="#000">-0.1</text>
<text x="723.87" y="292.90" font-size="25.73" textLength="14.66" lengthAdjust="spacingAndGlyphs" fill="#000">0</text>
<text x="703.93" y="244.30" font-size="25.73" textLength="38.11" lengthAdjust="spacingAndGlyphs" fill="#000">0.1</text>
<text x="703.93" y="195.70" font-size="25.73" textLength="38.15" lengthAdjust="spacingAndGlyphs" fill="#000">0.2</text>
<text x="703.93" y="147.10" font-size="25.73" textLength="37.97" lengthAdjust="spacingAndGlyphs" fill="#000">0.3</text>
<text x="703.94" y="98.50" font-size="25.73" textLength="37.55" lengthAdjust="spacingAndGlyphs" fill="#000">0.4</text>
<text x="703.93" y="49.90" font-size="25.73" textLength="37.91" lengthAdjust="spacingAndGlyphs" fill="#000">0.5</text>
<line x1="727.4" y1="796.9" x2="1476.5" y2="796.9" stroke="#000" stroke-width="3.0" stroke-dasharray="10.9,4.14" stroke-dashoffset="0"/>
<line x1="781.5" y1="993.8" x2="781.5" y2="986.8" stroke="#808080" stroke-width="1.6"/>
<line x1="781.5" y1="598.6" x2="781.5" y2="605.6" stroke="#808080" stroke-width="1.6"/>
<line x1="850.9" y1="993.8" x2="850.9" y2="986.8" stroke="#808080" stroke-width="1.6"/>
<line x1="850.9" y1="598.6" x2="850.9" y2="605.6" stroke="#808080" stroke-width="1.6"/>
<line x1="920.2" y1="993.8" x2="920.2" y2="986.8" stroke="#808080" stroke-width="1.6"/>
<line x1="920.2" y1="598.6" x2="920.2" y2="605.6" stroke="#808080" stroke-width="1.6"/>
<line x1="989.6" y1="993.8" x2="989.6" y2="986.8" stroke="#808080" stroke-width="1.6"/>
<line x1="989.6" y1="598.6" x2="989.6" y2="605.6" stroke="#808080" stroke-width="1.6"/>
<line x1="1059.0" y1="993.8" x2="1059.0" y2="986.8" stroke="#808080" stroke-width="1.6"/>
<line x1="1059.0" y1="598.6" x2="1059.0" y2="605.6" stroke="#808080" stroke-width="1.6"/>
<line x1="1128.3" y1="993.8" x2="1128.3" y2="986.8" stroke="#808080" stroke-width="1.6"/>
<line x1="1128.3" y1="598.6" x2="1128.3" y2="605.6" stroke="#808080" stroke-width="1.6"/>
<line x1="1197.7" y1="993.8" x2="1197.7" y2="986.8" stroke="#808080" stroke-width="1.6"/>
<line x1="1197.7" y1="598.6" x2="1197.7" y2="605.6" stroke="#808080" stroke-width="1.6"/>
<line x1="1267.1" y1="993.8" x2="1267.1" y2="986.8" stroke="#808080" stroke-width="1.6"/>
<line x1="1267.1" y1="598.6" x2="1267.1" y2="605.6" stroke="#808080" stroke-width="1.6"/>
<line x1="1336.4" y1="993.8" x2="1336.4" y2="986.8" stroke="#808080" stroke-width="1.6"/>
<line x1="1336.4" y1="598.6" x2="1336.4" y2="605.6" stroke="#808080" stroke-width="1.6"/>
<line x1="1405.8" y1="993.8" x2="1405.8" y2="986.8" stroke="#808080" stroke-width="1.6"/>
<line x1="1405.8" y1="598.6" x2="1405.8" y2="605.6" stroke="#808080" stroke-width="1.6"/>
<line x1="1475.2" y1="993.8" x2="1475.2" y2="986.8" stroke="#808080" stroke-width="1.6"/>
<line x1="1475.2" y1="598.6" x2="1475.2" y2="605.6" stroke="#808080" stroke-width="1.6"/>
<line x1="738.1" y1="994.6" x2="745.1" y2="994.6" stroke="#808080" stroke-width="1.6"/>
<line x1="1484.0" y1="994.6" x2="1477.0" y2="994.6" stroke="#808080" stroke-width="1.6"/>
<line x1="738.1" y1="955.1" x2="745.1" y2="955.1" stroke="#808080" stroke-width="1.6"/>
<line x1="1484.0" y1="955.1" x2="1477.0" y2="955.1" stroke="#808080" stroke-width="1.6"/>
<line x1="738.1" y1="915.5" x2="745.1" y2="915.5" stroke="#808080" stroke-width="1.6"/>
<line x1="1484.0" y1="915.5" x2="1477.0" y2="915.5" stroke="#808080" stroke-width="1.6"/>
<line x1="738.1" y1="876.0" x2="745.1" y2="876.0" stroke="#808080" stroke-width="1.6"/>
<line x1="1484.0" y1="876.0" x2="1477.0" y2="876.0" stroke="#808080" stroke-width="1.6"/>
<line x1="738.1" y1="836.4" x2="745.1" y2="836.4" stroke="#808080" stroke-width="1.6"/>
<line x1="1484.0" y1="836.4" x2="1477.0" y2="836.4" stroke="#808080" stroke-width="1.6"/>
<line x1="738.1" y1="796.9" x2="745.1" y2="796.9" stroke="#808080" stroke-width="1.6"/>
<line x1="1484.0" y1="796.9" x2="1477.0" y2="796.9" stroke="#808080" stroke-width="1.6"/>
<line x1="738.1" y1="757.4" x2="745.1" y2="757.4" stroke="#808080" stroke-width="1.6"/>
<line x1="1484.0" y1="757.4" x2="1477.0" y2="757.4" stroke="#808080" stroke-width="1.6"/>
<line x1="738.1" y1="717.8" x2="745.1" y2="717.8" stroke="#808080" stroke-width="1.6"/>
<line x1="1484.0" y1="717.8" x2="1477.0" y2="717.8" stroke="#808080" stroke-width="1.6"/>
<line x1="738.1" y1="678.2" x2="745.1" y2="678.2" stroke="#808080" stroke-width="1.6"/>
<line x1="1484.0" y1="678.2" x2="1477.0" y2="678.2" stroke="#808080" stroke-width="1.6"/>
<line x1="738.1" y1="638.7" x2="745.1" y2="638.7" stroke="#808080" stroke-width="1.6"/>
<line x1="1484.0" y1="638.7" x2="1477.0" y2="638.7" stroke="#808080" stroke-width="1.6"/>
<line x1="738.1" y1="599.1" x2="745.1" y2="599.1" stroke="#808080" stroke-width="1.6"/>
<line x1="1484.0" y1="599.1" x2="1477.0" y2="599.1" stroke="#808080" stroke-width="1.6"/>
<rect x="738.1" y="598.6" width="745.9" height="395.19999999999993" fill="none" stroke="#808080" stroke-width="1.6"/>
<circle cx="746.8" cy="752.8" r="3.2" fill="#13243a" stroke="#a9cdec" stroke-width="1.1"/>
<circle cx="781.5" cy="780.2" r="3.2" fill="#13243a" stroke="#a9cdec" stroke-width="1.1"/>
<circle cx="816.2" cy="833.4" r="3.2" fill="#13243a" stroke="#a9cdec" stroke-width="1.1"/>
<circle cx="850.9" cy="745.5" r="3.2" fill="#13243a" stroke="#a9cdec" stroke-width="1.1"/>
<circle cx="885.5" cy="792.2" r="3.2" fill="#13243a" stroke="#a9cdec" stroke-width="1.1"/>
<circle cx="920.2" cy="772.0" r="3.2" fill="#13243a" stroke="#a9cdec" stroke-width="1.1"/>
<circle cx="954.9" cy="767.7" r="3.2" fill="#13243a" stroke="#a9cdec" stroke-width="1.1"/>
<circle cx="989.6" cy="738.5" r="3.2" fill="#13243a" stroke="#a9cdec" stroke-width="1.1"/>
<circle cx="1024.3" cy="800.0" r="3.2" fill="#13243a" stroke="#a9cdec" stroke-width="1.1"/>
<circle cx="1059.0" cy="763.1" r="3.2" fill="#13243a" stroke="#a9cdec" stroke-width="1.1"/>
<circle cx="1093.7" cy="749.1" r="3.2" fill="#13243a" stroke="#a9cdec" stroke-width="1.1"/>
<circle cx="1128.3" cy="626.5" r="3.2" fill="#13243a" stroke="#a9cdec" stroke-width="1.1"/>
<circle cx="1163.0" cy="918.5" r="3.2" fill="#13243a" stroke="#a9cdec" stroke-width="1.1"/>
<circle cx="1197.7" cy="643.3" r="3.2" fill="#13243a" stroke="#a9cdec" stroke-width="1.1"/>
<circle cx="1232.4" cy="678.5" r="3.2" fill="#13243a" stroke="#a9cdec" stroke-width="1.1"/>
<circle cx="1267.1" cy="962.5" r="3.2" fill="#13243a" stroke="#a9cdec" stroke-width="1.1"/>
<circle cx="1301.8" cy="862.0" r="3.2" fill="#13243a" stroke="#a9cdec" stroke-width="1.1"/>
<circle cx="1336.4" cy="819.7" r="3.2" fill="#13243a" stroke="#a9cdec" stroke-width="1.1"/>
<circle cx="1371.1" cy="723.8" r="3.2" fill="#13243a" stroke="#a9cdec" stroke-width="1.1"/>
<circle cx="1405.8" cy="789.4" r="3.2" fill="#13243a" stroke="#a9cdec" stroke-width="1.1"/>
<circle cx="1440.5" cy="776.2" r="3.2" fill="#13243a" stroke="#a9cdec" stroke-width="1.1"/>
<circle cx="1475.2" cy="949.4" r="3.2" fill="#13243a" stroke="#a9cdec" stroke-width="1.1"/>
<polyline points="746.8,752.8 781.5,780.2 816.2,833.4 850.9,745.5 885.5,792.2 920.2,772.0 954.9,767.7 989.6,738.5 1024.3,800.0 1059.0,763.1 1093.7,749.1 1128.3,626.5 1163.0,918.5 1197.7,643.3 1232.4,678.5 1267.1,962.5 1301.8,862.0 1336.4,819.7 1371.1,723.8 1405.8,789.4 1440.5,776.2 1475.2,949.4" fill="none" stroke="#000" stroke-width="3.2" stroke-linejoin="miter" stroke-miterlimit="4"/>
<text x="743.70" y="747.20" font-size="27.47" textLength="41.66" lengthAdjust="spacingAndGlyphs" fill="#000">Lys</text>
<text x="786.74" y="786.90" font-size="27.47" textLength="45.23" lengthAdjust="spacingAndGlyphs" fill="#000">Arg</text>
<text x="801.99" y="871.40" font-size="27.47" textLength="40.62" lengthAdjust="spacingAndGlyphs" fill="#000">His</text>
<text x="833.69" y="744.80" font-size="27.47" textLength="41.35" lengthAdjust="spacingAndGlyphs" fill="#000">Ser</text>
<text x="872.84" y="831.70" font-size="27.47" textLength="48.79" lengthAdjust="spacingAndGlyphs" fill="#000">Asn</text>
<text x="892.54" y="766.50" font-size="27.47" textLength="49.46" lengthAdjust="spacingAndGlyphs" fill="#000">Asp</text>
<text x="955.15" y="789.80" font-size="27.47" textLength="39.75" lengthAdjust="spacingAndGlyphs" fill="#000">Ala</text>
<text x="971.36" y="737.90" font-size="27.47" textLength="42.81" lengthAdjust="spacingAndGlyphs" fill="#000">Thr</text>
<text x="1010.70" y="834.70" font-size="27.47" textLength="46.44" lengthAdjust="spacingAndGlyphs" fill="#000">Gln</text>
<text x="1062.69" y="793.10" font-size="27.47" textLength="46.59" lengthAdjust="spacingAndGlyphs" fill="#000">Glu</text>
<text x="1042.08" y="747.20" font-size="27.47" textLength="47.81" lengthAdjust="spacingAndGlyphs" fill="#000">Pro</text>
<text x="1107.18" y="628.40" font-size="27.47" textLength="40.29" lengthAdjust="spacingAndGlyphs" fill="#000">Val</text>
<text x="1119.42" y="943.80" font-size="27.47" textLength="56.42" lengthAdjust="spacingAndGlyphs" fill="#000">Met</text>
<text x="1165.10" y="647.10" font-size="27.47" textLength="34.35" lengthAdjust="spacingAndGlyphs" fill="#000">Ile</text>
<text x="1237.03" y="690.10" font-size="27.47" textLength="48.30" lengthAdjust="spacingAndGlyphs" fill="#000">Leu</text>
<text x="1244.95" y="988.70" font-size="27.47" textLength="41.73" lengthAdjust="spacingAndGlyphs" fill="#000">Tyr</text>
<text x="1306.23" y="884.80" font-size="27.47" textLength="51.46" lengthAdjust="spacingAndGlyphs" fill="#000">Phe</text>
<text x="1284.58" y="828.30" font-size="27.47" textLength="41.17" lengthAdjust="spacingAndGlyphs" fill="#000">Trp</text>
<text x="1345.71" y="723.80" font-size="27.47" textLength="38.74" lengthAdjust="spacingAndGlyphs" fill="#000">DA</text>
<text x="1388.73" y="825.90" font-size="27.47" textLength="38.42" lengthAdjust="spacingAndGlyphs" fill="#000">HA</text>
<text x="1393.34" y="770.60" font-size="27.47" textLength="75.42" lengthAdjust="spacingAndGlyphs" fill="#000">GABA</text>
<text x="1411.39" y="975.60" font-size="27.47" textLength="61.65" lengthAdjust="spacingAndGlyphs" fill="#000">5-HT</text>
<text transform="translate(674.00,905.08) rotate(-90)" font-size="40.84" textLength="200.85" lengthAdjust="spacingAndGlyphs" fill="#000">PC3 (9.42%)</text>
<text x="1003.24" y="1045.80" font-size="34.01" textLength="148.34" lengthAdjust="spacingAndGlyphs" fill="#000">Variables</text>
<text x="691.40" y="1008.25" font-size="25.87" textLength="46.64" lengthAdjust="spacingAndGlyphs" fill="#000">-0.5</text>
<text x="691.41" y="968.70" font-size="25.87" textLength="46.28" lengthAdjust="spacingAndGlyphs" fill="#000">-0.4</text>
<text x="691.40" y="929.15" font-size="25.87" textLength="46.69" lengthAdjust="spacingAndGlyphs" fill="#000">-0.3</text>
<text x="691.39" y="889.60" font-size="25.87" textLength="46.88" lengthAdjust="spacingAndGlyphs" fill="#000">-0.2</text>
<text x="691.39" y="850.05" font-size="25.87" textLength="46.83" lengthAdjust="spacingAndGlyphs" fill="#000">-0.1</text>
<text x="715.70" y="810.50" font-size="25.87" textLength="14.19" lengthAdjust="spacingAndGlyphs" fill="#000">0</text>
<text x="698.14" y="770.95" font-size="25.87" textLength="37.68" lengthAdjust="spacingAndGlyphs" fill="#000">0.1</text>
<text x="698.14" y="731.40" font-size="25.87" textLength="37.72" lengthAdjust="spacingAndGlyphs" fill="#000">0.2</text>
<text x="698.15" y="691.85" font-size="25.87" textLength="37.54" lengthAdjust="spacingAndGlyphs" fill="#000">0.3</text>
<text x="698.16" y="652.30" font-size="25.87" textLength="37.13" lengthAdjust="spacingAndGlyphs" fill="#000">0.4</text>
<text x="698.15" y="612.75" font-size="25.87" textLength="37.49" lengthAdjust="spacingAndGlyphs" fill="#000">0.5</text>
<line x1="744.7" y1="1357.1" x2="1488.9" y2="1357.1" stroke="#333" stroke-width="2.3" stroke-dasharray="10.8,4.23" stroke-dashoffset="0"/>
<line x1="792.1" y1="1551.2" x2="792.1" y2="1544.2" stroke="#777" stroke-width="1.6"/>
<line x1="792.1" y1="1163.5" x2="792.1" y2="1170.5" stroke="#777" stroke-width="1.6"/>
<line x1="868.5" y1="1551.2" x2="868.5" y2="1544.2" stroke="#777" stroke-width="1.6"/>
<line x1="868.5" y1="1163.5" x2="868.5" y2="1170.5" stroke="#777" stroke-width="1.6"/>
<line x1="944.8" y1="1551.2" x2="944.8" y2="1544.2" stroke="#777" stroke-width="1.6"/>
<line x1="944.8" y1="1163.5" x2="944.8" y2="1170.5" stroke="#777" stroke-width="1.6"/>
<line x1="1021.2" y1="1551.2" x2="1021.2" y2="1544.2" stroke="#777" stroke-width="1.6"/>
<line x1="1021.2" y1="1163.5" x2="1021.2" y2="1170.5" stroke="#777" stroke-width="1.6"/>
<line x1="1097.6" y1="1551.2" x2="1097.6" y2="1544.2" stroke="#777" stroke-width="1.6"/>
<line x1="1097.6" y1="1163.5" x2="1097.6" y2="1170.5" stroke="#777" stroke-width="1.6"/>
<line x1="1174.0" y1="1551.2" x2="1174.0" y2="1544.2" stroke="#777" stroke-width="1.6"/>
<line x1="1174.0" y1="1163.5" x2="1174.0" y2="1170.5" stroke="#777" stroke-width="1.6"/>
<line x1="1250.4" y1="1551.2" x2="1250.4" y2="1544.2" stroke="#777" stroke-width="1.6"/>
<line x1="1250.4" y1="1163.5" x2="1250.4" y2="1170.5" stroke="#777" stroke-width="1.6"/>
<line x1="1326.8" y1="1551.2" x2="1326.8" y2="1544.2" stroke="#777" stroke-width="1.6"/>
<line x1="1326.8" y1="1163.5" x2="1326.8" y2="1170.5" stroke="#777" stroke-width="1.6"/>
<line x1="1403.1" y1="1551.2" x2="1403.1" y2="1544.2" stroke="#777" stroke-width="1.6"/>
<line x1="1403.1" y1="1163.5" x2="1403.1" y2="1170.5" stroke="#777" stroke-width="1.6"/>
<line x1="1479.5" y1="1551.2" x2="1479.5" y2="1544.2" stroke="#777" stroke-width="1.6"/>
<line x1="1479.5" y1="1163.5" x2="1479.5" y2="1170.5" stroke="#777" stroke-width="1.6"/>
<line x1="744.0" y1="1551.2" x2="751.0" y2="1551.2" stroke="#777" stroke-width="1.6"/>
<line x1="1488.9" y1="1551.2" x2="1481.9" y2="1551.2" stroke="#777" stroke-width="1.6"/>
<line x1="744.0" y1="1486.5" x2="751.0" y2="1486.5" stroke="#777" stroke-width="1.6"/>
<line x1="1488.9" y1="1486.5" x2="1481.9" y2="1486.5" stroke="#777" stroke-width="1.6"/>
<line x1="744.0" y1="1421.8" x2="751.0" y2="1421.8" stroke="#777" stroke-width="1.6"/>
<line x1="1488.9" y1="1421.8" x2="1481.9" y2="1421.8" stroke="#777" stroke-width="1.6"/>
<line x1="744.0" y1="1357.1" x2="751.0" y2="1357.1" stroke="#777" stroke-width="1.6"/>
<line x1="1488.9" y1="1357.1" x2="1481.9" y2="1357.1" stroke="#777" stroke-width="1.6"/>
<line x1="744.0" y1="1292.4" x2="751.0" y2="1292.4" stroke="#777" stroke-width="1.6"/>
<line x1="1488.9" y1="1292.4" x2="1481.9" y2="1292.4" stroke="#777" stroke-width="1.6"/>
<line x1="744.0" y1="1227.7" x2="751.0" y2="1227.7" stroke="#777" stroke-width="1.6"/>
<line x1="1488.9" y1="1227.7" x2="1481.9" y2="1227.7" stroke="#777" stroke-width="1.6"/>
<line x1="744.0" y1="1163.0" x2="751.0" y2="1163.0" stroke="#777" stroke-width="1.6"/>
<line x1="1488.9" y1="1163.0" x2="1481.9" y2="1163.0" stroke="#777" stroke-width="1.6"/>
<rect x="744" y="1163.5" width="744.9000000000001" height="387.70000000000005" fill="none" stroke="#222" stroke-width="2.1"/>
<circle cx="753.9" cy="1297.3" r="3.2" fill="#13243a" stroke="#a9cdec" stroke-width="1.1"/>
<circle cx="792.1" cy="1325.7" r="3.2" fill="#13243a" stroke="#a9cdec" stroke-width="1.1"/>
<circle cx="830.3" cy="1373.8" r="3.2" fill="#13243a" stroke="#a9cdec" stroke-width="1.1"/>
<circle cx="868.5" cy="1334.8" r="3.2" fill="#13243a" stroke="#a9cdec" stroke-width="1.1"/>
<circle cx="906.7" cy="1356.4" r="3.2" fill="#13243a" stroke="#a9cdec" stroke-width="1.1"/>
<circle cx="944.8" cy="1357.4" r="3.2" fill="#13243a" stroke="#a9cdec" stroke-width="1.1"/>
<circle cx="983.0" cy="1332.5" r="3.2" fill="#13243a" stroke="#a9cdec" stroke-width="1.1"/>
<circle cx="1021.2" cy="1297.9" r="3.2" fill="#13243a" stroke="#a9cdec" stroke-width="1.1"/>
<circle cx="1059.4" cy="1353.1" r="3.2" fill="#13243a" stroke="#a9cdec" stroke-width="1.1"/>
<circle cx="1097.6" cy="1325.9" r="3.2" fill="#13243a" stroke="#a9cdec" stroke-width="1.1"/>
<circle cx="1135.8" cy="1319.4" r="3.2" fill="#13243a" stroke="#a9cdec" stroke-width="1.1"/>
<circle cx="1174.0" cy="1179.0" r="3.2" fill="#13243a" stroke="#a9cdec" stroke-width="1.1"/>
<circle cx="1212.2" cy="1442.7" r="3.2" fill="#13243a" stroke="#a9cdec" stroke-width="1.1"/>
<circle cx="1250.4" cy="1233.8" r="3.2" fill="#13243a" stroke="#a9cdec" stroke-width="1.1"/>
<circle cx="1288.6" cy="1252.9" r="3.2" fill="#13243a" stroke="#a9cdec" stroke-width="1.1"/>
<circle cx="1326.8" cy="1501.6" r="3.2" fill="#13243a" stroke="#a9cdec" stroke-width="1.1"/>
<circle cx="1364.9" cy="1411.8" r="3.2" fill="#13243a" stroke="#a9cdec" stroke-width="1.1"/>
<circle cx="1403.1" cy="1405.2" r="3.2" fill="#13243a" stroke="#a9cdec" stroke-width="1.1"/>
<circle cx="1441.3" cy="1358.4" r="3.2" fill="#13243a" stroke="#a9cdec" stroke-width="1.1"/>
<circle cx="1479.5" cy="1331.5" r="3.2" fill="#13243a" stroke="#a9cdec" stroke-width="1.1"/>
<polyline points="753.9,1297.3 792.1,1325.7 830.3,1373.8 868.5,1334.8 906.7,1356.4 944.8,1357.4 983.0,1332.5 1021.2,1297.9 1059.4,1353.1 1097.6,1325.9 1135.8,1319.4 1174.0,1179.0 1212.2,1442.7 1250.4,1233.8 1288.6,1252.9 1326.8,1501.6 1364.9,1411.8 1403.1,1405.2 1441.3,1358.4 1479.5,1331.5" fill="none" stroke="#000" stroke-width="3.4" stroke-linejoin="miter" stroke-miterlimit="4"/>
<text x="749.03" y="1273.90" font-size="27.47" textLength="41.12" lengthAdjust="spacingAndGlyphs" fill="#000">Lys</text>
<text x="781.94" y="1317.20" font-size="27.47" textLength="45.75" lengthAdjust="spacingAndGlyphs" fill="#000">Arg</text>
<text x="801.96" y="1405.80" font-size="27.47" textLength="41.17" lengthAdjust="spacingAndGlyphs" fill="#000">His</text>
<text x="845.66" y="1316.50" font-size="27.47" textLength="42.60" lengthAdjust="spacingAndGlyphs" fill="#000">Ser</text>
<text x="872.85" y="1390.20" font-size="27.47" textLength="48.07" lengthAdjust="spacingAndGlyphs" fill="#000">Asn</text>
<text x="910.65" y="1340.10" font-size="27.47" textLength="46.90" lengthAdjust="spacingAndGlyphs" fill="#000">Asp</text>
<text x="983.65" y="1353.10" font-size="27.47" textLength="40.35" lengthAdjust="spacingAndGlyphs" fill="#000">Ala</text>
<text x="998.04" y="1290.40" font-size="27.47" textLength="44.25" lengthAdjust="spacingAndGlyphs" fill="#000">Thr</text>
<text x="1033.20" y="1387.70" font-size="27.47" textLength="46.44" lengthAdjust="spacingAndGlyphs" fill="#000">Gln</text>
<text x="1099.78" y="1356.80" font-size="27.47" textLength="46.92" lengthAdjust="spacingAndGlyphs" fill="#000">Glu</text>
<text x="1080.85" y="1314.70" font-size="27.47" textLength="46.40" lengthAdjust="spacingAndGlyphs" fill="#000">Pro</text>
<text x="1186.68" y="1199.00" font-size="27.47" textLength="39.34" lengthAdjust="spacingAndGlyphs" fill="#000">Val</text>
<text x="1184.65" y="1472.60" font-size="27.47" textLength="55.79" lengthAdjust="spacingAndGlyphs" fill="#000">Met</text>
<text x="1237.25" y="1223.90" font-size="27.47" textLength="34.92" lengthAdjust="spacingAndGlyphs" fill="#000">Ile</text>
<text x="1294.85" y="1276.90" font-size="27.47" textLength="96.51" lengthAdjust="spacingAndGlyphs" fill="#000">leucine</text>
<text x="1309.86" y="1530.60" font-size="27.47" textLength="41.01" lengthAdjust="spacingAndGlyphs" fill="#000">Tyr</text>
<text x="1321.23" y="1396.40" font-size="27.47" textLength="51.35" lengthAdjust="spacingAndGlyphs" fill="#000">Phe</text>
<text x="1406.31" y="1429.50" font-size="27.47" textLength="39.50" lengthAdjust="spacingAndGlyphs" fill="#000">Trp</text>
<text x="1433.69" y="1391.50" font-size="27.47" textLength="39.17" lengthAdjust="spacingAndGlyphs" fill="#000">HA</text>
<text x="1399.90" y="1325.00" font-size="27.47" textLength="77.25" lengthAdjust="spacingAndGlyphs" fill="#000">GABA</text>
<text transform="translate(684.90,1481.91) rotate(-90)" font-size="39.97" textLength="215.13" lengthAdjust="spacingAndGlyphs" fill="#000">PC2 (14.41%)</text>
<text x="1003.24" y="1599.00" font-size="35.47" textLength="148.75" lengthAdjust="spacingAndGlyphs" fill="#000">Variables</text>
<text x="697.46" y="1560.00" font-size="25.87" textLength="44.38" lengthAdjust="spacingAndGlyphs" fill="#000">-0.6</text>
<text x="697.47" y="1495.30" font-size="25.87" textLength="43.98" lengthAdjust="spacingAndGlyphs" fill="#000">-0.4</text>
<text x="697.45" y="1430.60" font-size="25.87" textLength="44.55" lengthAdjust="spacingAndGlyphs" fill="#000">-0.2</text>
<text x="724.67" y="1365.90" font-size="25.87" textLength="14.66" lengthAdjust="spacingAndGlyphs" fill="#000">0</text>
<text x="705.99" y="1301.20" font-size="25.87" textLength="36.01" lengthAdjust="spacingAndGlyphs" fill="#000">0.2</text>
<text x="706.00" y="1236.50" font-size="25.87" textLength="35.44" lengthAdjust="spacingAndGlyphs" fill="#000">0.4</text>
<text x="705.99" y="1171.80" font-size="25.87" textLength="35.84" lengthAdjust="spacingAndGlyphs" fill="#000">0.6</text>
<line x1="741.0" y1="1914.2" x2="1482.7" y2="1914.2" stroke="#000" stroke-width="3.2" stroke-dasharray="10.7,4.25" stroke-dashoffset="0"/>
<line x1="788.0" y1="2120.6" x2="788.0" y2="2113.6" stroke="#555" stroke-width="1.6"/>
<line x1="788.0" y1="1706.6" x2="788.0" y2="1713.6" stroke="#555" stroke-width="1.6"/>
<line x1="864.2" y1="2120.6" x2="864.2" y2="2113.6" stroke="#555" stroke-width="1.6"/>
<line x1="864.2" y1="1706.6" x2="864.2" y2="1713.6" stroke="#555" stroke-width="1.6"/>
<line x1="940.4" y1="2120.6" x2="940.4" y2="2113.6" stroke="#555" stroke-width="1.6"/>
<line x1="940.4" y1="1706.6" x2="940.4" y2="1713.6" stroke="#555" stroke-width="1.6"/>
<line x1="1016.6" y1="2120.6" x2="1016.6" y2="2113.6" stroke="#555" stroke-width="1.6"/>
<line x1="1016.6" y1="1706.6" x2="1016.6" y2="1713.6" stroke="#555" stroke-width="1.6"/>
<line x1="1092.9" y1="2120.6" x2="1092.9" y2="2113.6" stroke="#555" stroke-width="1.6"/>
<line x1="1092.9" y1="1706.6" x2="1092.9" y2="1713.6" stroke="#555" stroke-width="1.6"/>
<line x1="1169.1" y1="2120.6" x2="1169.1" y2="2113.6" stroke="#555" stroke-width="1.6"/>
<line x1="1169.1" y1="1706.6" x2="1169.1" y2="1713.6" stroke="#555" stroke-width="1.6"/>
<line x1="1245.3" y1="2120.6" x2="1245.3" y2="2113.6" stroke="#555" stroke-width="1.6"/>
<line x1="1245.3" y1="1706.6" x2="1245.3" y2="1713.6" stroke="#555" stroke-width="1.6"/>
<line x1="1321.5" y1="2120.6" x2="1321.5" y2="2113.6" stroke="#555" stroke-width="1.6"/>
<line x1="1321.5" y1="1706.6" x2="1321.5" y2="1713.6" stroke="#555" stroke-width="1.6"/>
<line x1="1397.7" y1="2120.6" x2="1397.7" y2="2113.6" stroke="#555" stroke-width="1.6"/>
<line x1="1397.7" y1="1706.6" x2="1397.7" y2="1713.6" stroke="#555" stroke-width="1.6"/>
<line x1="1473.9" y1="2120.6" x2="1473.9" y2="2113.6" stroke="#555" stroke-width="1.6"/>
<line x1="1473.9" y1="1706.6" x2="1473.9" y2="1713.6" stroke="#555" stroke-width="1.6"/>
<line x1="741.1" y1="2120.7" x2="748.1" y2="2120.7" stroke="#555" stroke-width="1.6"/>
<line x1="1482.7" y1="2120.7" x2="1475.7" y2="2120.7" stroke="#555" stroke-width="1.6"/>
<line x1="741.1" y1="2079.4" x2="748.1" y2="2079.4" stroke="#555" stroke-width="1.6"/>
<line x1="1482.7" y1="2079.4" x2="1475.7" y2="2079.4" stroke="#555" stroke-width="1.6"/>
<line x1="741.1" y1="2038.1" x2="748.1" y2="2038.1" stroke="#555" stroke-width="1.6"/>
<line x1="1482.7" y1="2038.1" x2="1475.7" y2="2038.1" stroke="#555" stroke-width="1.6"/>
<line x1="741.1" y1="1996.8" x2="748.1" y2="1996.8" stroke="#555" stroke-width="1.6"/>
<line x1="1482.7" y1="1996.8" x2="1475.7" y2="1996.8" stroke="#555" stroke-width="1.6"/>
<line x1="741.1" y1="1955.5" x2="748.1" y2="1955.5" stroke="#555" stroke-width="1.6"/>
<line x1="1482.7" y1="1955.5" x2="1475.7" y2="1955.5" stroke="#555" stroke-width="1.6"/>
<line x1="741.1" y1="1914.2" x2="748.1" y2="1914.2" stroke="#555" stroke-width="1.6"/>
<line x1="1482.7" y1="1914.2" x2="1475.7" y2="1914.2" stroke="#555" stroke-width="1.6"/>
<line x1="741.1" y1="1872.9" x2="748.1" y2="1872.9" stroke="#555" stroke-width="1.6"/>
<line x1="1482.7" y1="1872.9" x2="1475.7" y2="1872.9" stroke="#555" stroke-width="1.6"/>
<line x1="741.1" y1="1831.6" x2="748.1" y2="1831.6" stroke="#555" stroke-width="1.6"/>
<line x1="1482.7" y1="1831.6" x2="1475.7" y2="1831.6" stroke="#555" stroke-width="1.6"/>
<line x1="741.1" y1="1790.3" x2="748.1" y2="1790.3" stroke="#555" stroke-width="1.6"/>
<line x1="1482.7" y1="1790.3" x2="1475.7" y2="1790.3" stroke="#555" stroke-width="1.6"/>
<line x1="741.1" y1="1749.0" x2="748.1" y2="1749.0" stroke="#555" stroke-width="1.6"/>
<line x1="1482.7" y1="1749.0" x2="1475.7" y2="1749.0" stroke="#555" stroke-width="1.6"/>
<line x1="741.1" y1="1707.7" x2="748.1" y2="1707.7" stroke="#555" stroke-width="1.6"/>
<line x1="1482.7" y1="1707.7" x2="1475.7" y2="1707.7" stroke="#555" stroke-width="1.6"/>
<rect x="741.1" y="1706.6" width="741.6" height="414.0" fill="none" stroke="#1a1a1a" stroke-width="2.4"/>
<circle cx="749.9" cy="1787.1" r="3.2" fill="#13243a" stroke="#a9cdec" stroke-width="1.1"/>
<circle cx="788.0" cy="1842.0" r="3.2" fill="#13243a" stroke="#a9cdec" stroke-width="1.1"/>
<circle cx="826.1" cy="1927.5" r="3.2" fill="#13243a" stroke="#a9cdec" stroke-width="1.1"/>
<circle cx="864.2" cy="1865.5" r="3.2" fill="#13243a" stroke="#a9cdec" stroke-width="1.1"/>
<circle cx="902.3" cy="1886.5" r="3.2" fill="#13243a" stroke="#a9cdec" stroke-width="1.1"/>
<circle cx="940.4" cy="1896.1" r="3.2" fill="#13243a" stroke="#a9cdec" stroke-width="1.1"/>
<circle cx="978.5" cy="1840.0" r="3.2" fill="#13243a" stroke="#a9cdec" stroke-width="1.1"/>
<circle cx="1016.6" cy="1823.2" r="3.2" fill="#13243a" stroke="#a9cdec" stroke-width="1.1"/>
<circle cx="1054.7" cy="1975.8" r="3.2" fill="#13243a" stroke="#a9cdec" stroke-width="1.1"/>
<circle cx="1092.9" cy="1878.7" r="3.2" fill="#13243a" stroke="#a9cdec" stroke-width="1.1"/>
<circle cx="1131.0" cy="1873.7" r="3.2" fill="#13243a" stroke="#a9cdec" stroke-width="1.1"/>
<circle cx="1169.1" cy="1794.5" r="3.2" fill="#13243a" stroke="#a9cdec" stroke-width="1.1"/>
<circle cx="1207.2" cy="1970.7" r="3.2" fill="#13243a" stroke="#a9cdec" stroke-width="1.1"/>
<circle cx="1245.3" cy="1740.8" r="3.2" fill="#13243a" stroke="#a9cdec" stroke-width="1.1"/>
<circle cx="1283.4" cy="1771.1" r="3.2" fill="#13243a" stroke="#a9cdec" stroke-width="1.1"/>
<circle cx="1321.5" cy="2107.4" r="3.2" fill="#13243a" stroke="#a9cdec" stroke-width="1.1"/>
<circle cx="1359.6" cy="2015.7" r="3.2" fill="#13243a" stroke="#a9cdec" stroke-width="1.1"/>
<circle cx="1397.7" cy="2004.8" r="3.2" fill="#13243a" stroke="#a9cdec" stroke-width="1.1"/>
<circle cx="1435.8" cy="1916.0" r="3.2" fill="#13243a" stroke="#a9cdec" stroke-width="1.1"/>
<circle cx="1473.9" cy="1871.8" r="3.2" fill="#13243a" stroke="#a9cdec" stroke-width="1.1"/>
<polyline points="749.9,1787.1 788.0,1842.0 826.1,1927.5 864.2,1865.5 902.3,1886.5 940.4,1896.1 978.5,1840.0 1016.6,1823.2 1054.7,1975.8 1092.9,1878.7 1131.0,1873.7 1169.1,1794.5 1207.2,1970.7 1245.3,1740.8 1283.4,1771.1 1321.5,2107.4 1359.6,2015.7 1397.7,2004.8 1435.8,1916.0 1473.9,1871.8" fill="none" stroke="#000" stroke-width="3.3" stroke-linejoin="miter" stroke-miterlimit="4"/>
<text x="753.37" y="1775.80" font-size="27.47" textLength="40.37" lengthAdjust="spacingAndGlyphs" fill="#000">Lys</text>
<text x="795.84" y="1832.30" font-size="27.47" textLength="45.75" lengthAdjust="spacingAndGlyphs" fill="#000">Arg</text>
<text x="807.29" y="1968.60" font-size="27.47" textLength="40.62" lengthAdjust="spacingAndGlyphs" fill="#000">His</text>
<text x="852.97" y="1845.60" font-size="27.47" textLength="42.08" lengthAdjust="spacingAndGlyphs" fill="#000">Ser</text>
<text x="876.95" y="1914.20" font-size="27.47" textLength="46.90" lengthAdjust="spacingAndGlyphs" fill="#000">Asp</text>
<text x="944.35" y="1914.20" font-size="27.47" textLength="46.90" lengthAdjust="spacingAndGlyphs" fill="#000">Asp</text>
<text x="935.95" y="1838.40" font-size="27.47" textLength="39.75" lengthAdjust="spacingAndGlyphs" fill="#000">Ala</text>
<text x="1011.14" y="1814.50" font-size="27.47" textLength="43.84" lengthAdjust="spacingAndGlyphs" fill="#000">Thr</text>
<text x="1041.20" y="2006.70" font-size="27.47" textLength="46.44" lengthAdjust="spacingAndGlyphs" fill="#000">Gln</text>
<text x="1058.03" y="1869.40" font-size="27.47" textLength="45.62" lengthAdjust="spacingAndGlyphs" fill="#000">Glu</text>
<text x="1130.67" y="1897.50" font-size="27.47" textLength="46.18" lengthAdjust="spacingAndGlyphs" fill="#000">Pro</text>
<text x="1152.98" y="1782.70" font-size="27.47" textLength="38.81" lengthAdjust="spacingAndGlyphs" fill="#000">Val</text>
<text x="1205.93" y="1995.50" font-size="27.47" textLength="56.21" lengthAdjust="spacingAndGlyphs" fill="#000">Met</text>
<text x="1257.55" y="1742.10" font-size="27.47" textLength="33.77" lengthAdjust="spacingAndGlyphs" fill="#000">Ile</text>
<text x="1293.17" y="1785.70" font-size="27.47" textLength="47.31" lengthAdjust="spacingAndGlyphs" fill="#000">Leu</text>
<text x="1271.17" y="2104.00" font-size="27.47" textLength="40.80" lengthAdjust="spacingAndGlyphs" fill="#000">Tyr</text>
<text x="1358.65" y="2038.90" font-size="27.47" textLength="51.03" lengthAdjust="spacingAndGlyphs" fill="#000">Phe</text>
<text x="1351.97" y="1988.90" font-size="27.47" textLength="42.11" lengthAdjust="spacingAndGlyphs" fill="#000">Trp</text>
<text x="1432.71" y="1945.50" font-size="27.47" textLength="38.85" lengthAdjust="spacingAndGlyphs" fill="#000">HA</text>
<text x="1393.30" y="1861.90" font-size="27.47" textLength="77.25" lengthAdjust="spacingAndGlyphs" fill="#000">GABA</text>
<text transform="translate(676.00,2063.31) rotate(-90)" font-size="40.41" textLength="230.49" lengthAdjust="spacingAndGlyphs" fill="#000">PC2 (19.88%)</text>
<text x="1005.14" y="2168.60" font-size="36.77" textLength="148.34" lengthAdjust="spacingAndGlyphs" fill="#000">Variables</text>
<text x="689.79" y="2136.90" font-size="26.89" textLength="46.85" lengthAdjust="spacingAndGlyphs" fill="#000">-0.5</text>
<text x="689.80" y="2095.60" font-size="26.89" textLength="46.49" lengthAdjust="spacingAndGlyphs" fill="#000">-0.4</text>
<text x="689.79" y="2054.30" font-size="26.89" textLength="46.91" lengthAdjust="spacingAndGlyphs" fill="#000">-0.3</text>
<text x="689.79" y="2013.00" font-size="26.89" textLength="47.09" lengthAdjust="spacingAndGlyphs" fill="#000">-0.2</text>
<text x="689.79" y="1971.70" font-size="26.89" textLength="47.05" lengthAdjust="spacingAndGlyphs" fill="#000">-0.1</text>
<text x="706.69" y="1930.40" font-size="26.89" textLength="14.43" lengthAdjust="spacingAndGlyphs" fill="#000">0</text>
<text x="697.55" y="1889.10" font-size="26.89" textLength="37.47" lengthAdjust="spacingAndGlyphs" fill="#000">0.1</text>
<text x="697.55" y="1847.80" font-size="26.89" textLength="37.51" lengthAdjust="spacingAndGlyphs" fill="#000">0.2</text>
<text x="697.55" y="1806.50" font-size="26.89" textLength="37.33" lengthAdjust="spacingAndGlyphs" fill="#000">0.3</text>
<text x="697.56" y="1765.20" font-size="26.89" textLength="36.92" lengthAdjust="spacingAndGlyphs" fill="#000">0.4</text>
<text x="697.55" y="1723.90" font-size="26.89" textLength="37.27" lengthAdjust="spacingAndGlyphs" fill="#000">0.5</text>
<polygon points="35.5,2188.3 51.9,2215.4 19.1,2215.4" fill="#b07a22"/>
<rect x="23.8" y="2258.7" width="25.4" height="25.6" fill="#dcf72a" stroke="#a5cf1c" stroke-width="1.6"/>
<text x="77.85" y="2215.40" font-size="38.81" textLength="74.30" lengthAdjust="spacingAndGlyphs" fill="#000">LolB</text>
<text x="151.55" y="2203.40" font-size="26.16" textLength="62.49" lengthAdjust="spacingAndGlyphs" fill="#000">HIGH</text>
<text x="223.36" y="2215.40" font-size="38.81" textLength="44.76" lengthAdjust="spacingAndGlyphs" fill="#000">6h</text>
<text x="77.96" y="2276.10" font-size="38.81" textLength="129.22" lengthAdjust="spacingAndGlyphs" fill="#000">Control</text>
<text x="208.60" y="2263.60" font-size="25.58" textLength="46.23" lengthAdjust="spacingAndGlyphs" fill="#000">VEH</text>
<text x="261.86" y="2276.10" font-size="38.81" textLength="44.76" lengthAdjust="spacingAndGlyphs" fill="#000">6h</text>
</svg></body></html>
